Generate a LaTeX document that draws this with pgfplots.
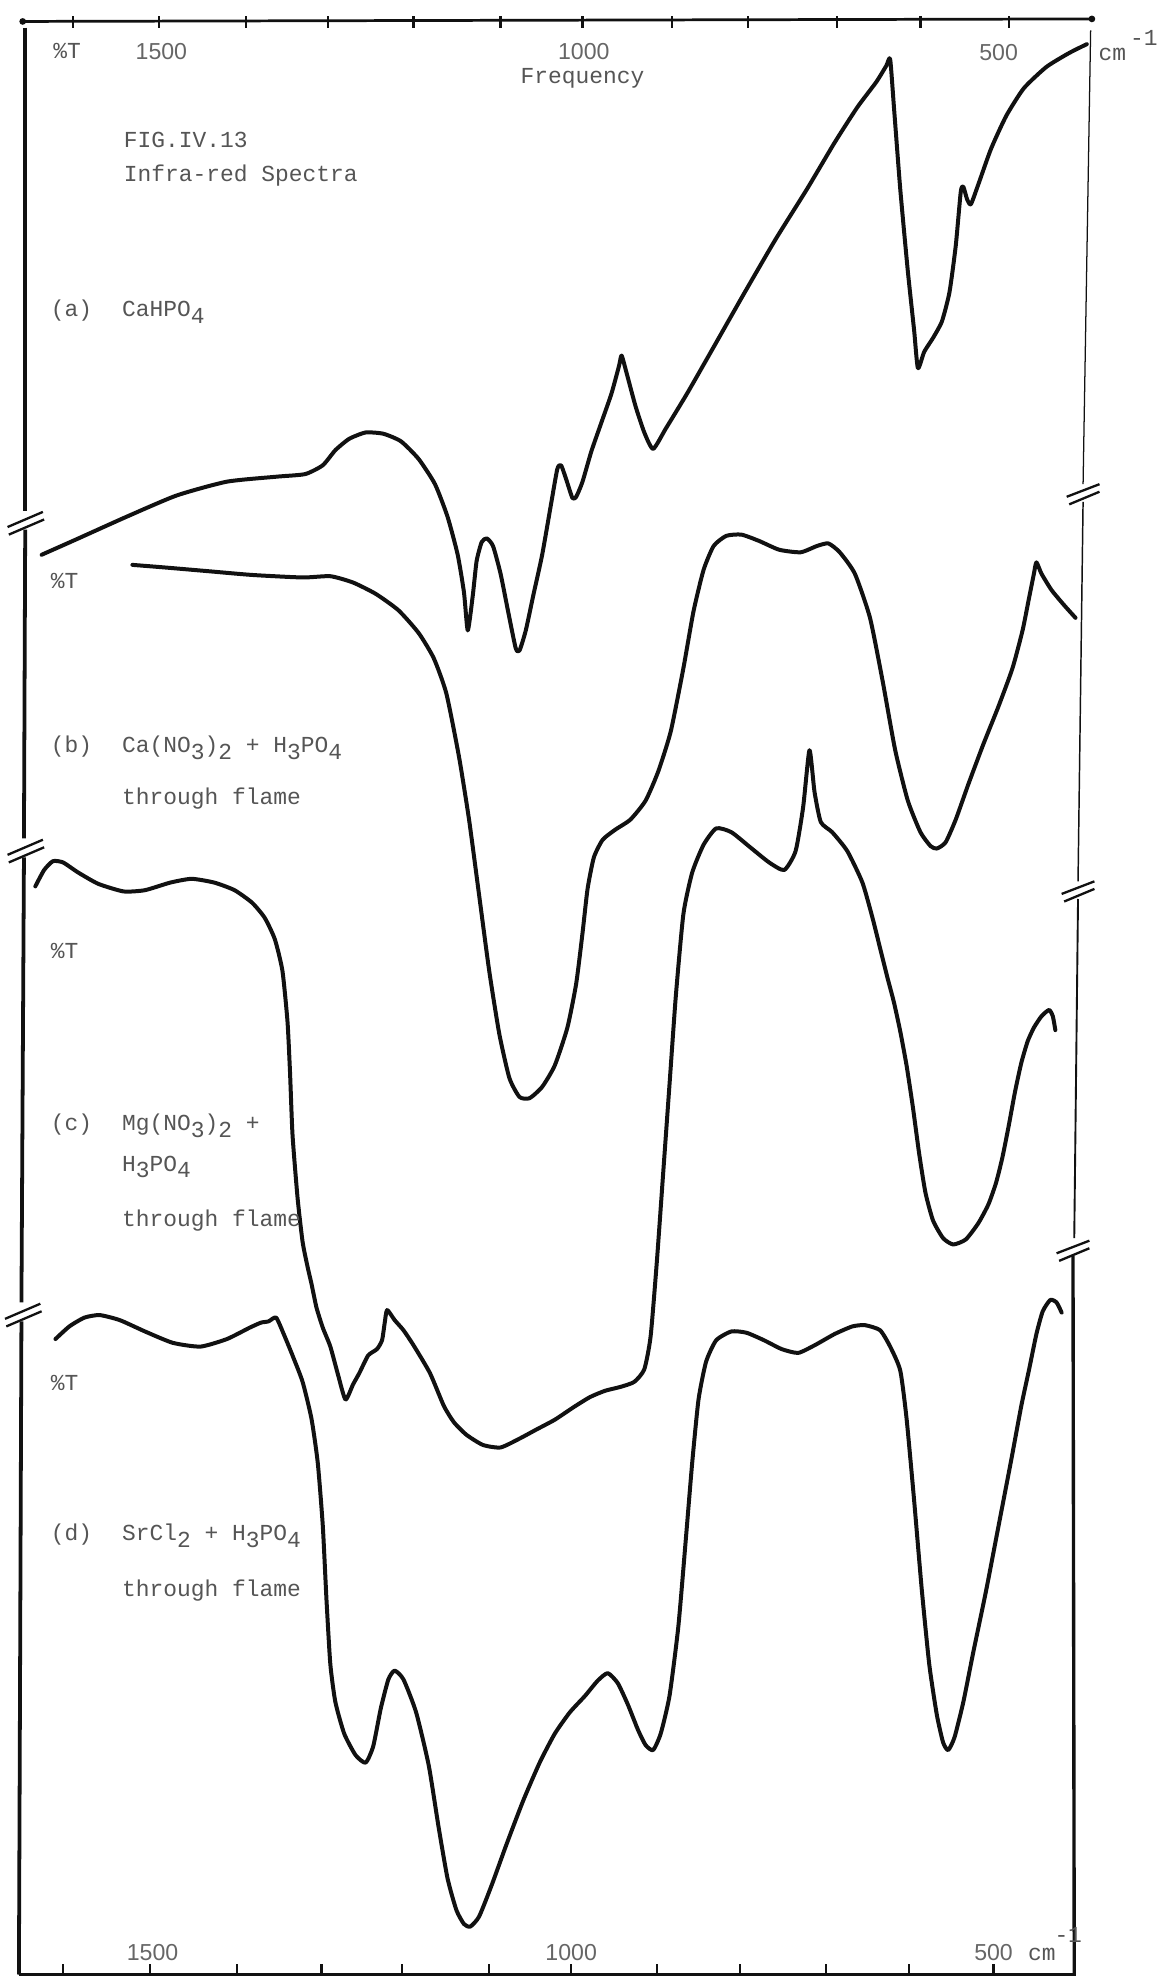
\documentclass[border=0pt]{standalone}
\usepackage{fontspec}
\usepackage{pgfplots}
\pgfplotsset{compat=1.18}
\newfontfamily\typed{Liberation Mono}
\newfontfamily\stencil{Liberation Sans}
\definecolor{ink}{HTML}{111111}
\definecolor{typeink}{HTML}{555555}
\definecolor{letter}{HTML}{666666}
\newcommand{\sub}[1]{\raisebox{-0.55ex}{#1}}
\tikzset{
    tl/.style={typeink, font=\typed\fontsize{10.9}{13}\selectfont, inner sep=0pt, anchor=base west},
    dl/.style={letter, font=\stencil\fontsize{11}{13}\selectfont, inner sep=0pt, anchor=base},
    brk/.style={ink, line width=1.1pt},
}

% spectra, in picture units (x to the right, y downwards)
\pgfplotstableread{
x y
33 440
60 428
100 410
140 393
180 382
220 378
242 376
256 369
266 357
277 348
290 343
304 344
318 350
332 364
345 384
355 410
363 440
368 470
371 500
375 472
378 445
382 430
386 427
391 433
397 455
403 485
409 514
412 516
417 500
423 472
430 440
437 400
442 372
445 369
449 380
454 395
457 394
462 382
469 358
477 335
485 312
491 290
493 282
497 296
504 322
511 343
518 356
528 340
545 312
565 277
590 233
615 190
640 150
662 113
680 85
695 65
703 52
706 47
709 85
714 150
720 215
725 262
728 292
733 279
740 268
747 255
753 232
758 195
762 152
764 148
767 158
770 162
776 146
786 118
798 92
812 70
830 53
848 42
862 35
}\specA

\pgfplotstableread{
x y
105 448
130 450
165 453
200 456
240 458
262 457
280 462
298 471
316 484
332 502
344 522
354 550
364 600
372 650
380 710
388 770
396 820
404 855
412 870
420 871
430 862
440 845
450 815
457 780
462 740
466 705
471 680
478 666
488 658
500 650
512 635
522 612
532 580
542 530
550 485
558 452
566 433
576 425
588 424
602 429
618 436
635 438
648 433
657 431
666 438
678 455
690 490
700 540
710 595
720 635
730 660
738 671
743 673
750 668
758 650
768 622
780 590
792 560
803 530
811 500
816 475
820 455
822 446
826 455
834 468
844 480
853 490
}\specB

\pgfplotstableread{
x y
28 703
35 690
42 683
50 684
62 692
78 701
98 707
115 706
135 700
152 697
170 700
186 706
200 716
210 728
218 745
224 770
228 810
230 850
232 900
236 950
240 985
244 1005
247 1018
251 1037
256 1053
262 1068
268 1090
274 1110
280 1098
285 1089
292 1075
299 1070
303 1063
305 1050
307 1039
313 1047
320 1055
328 1067
341 1089
352 1115
360 1128
370 1138
383 1146
397 1148
412 1141
425 1134
440 1126
455 1116
468 1108
480 1103
492 1100
503 1096
511 1086
516 1060
521 1000
526 930
531 860
536 790
542 725
549 692
558 670
568 657
580 660
595 672
610 684
622 690
631 675
637 640
642 595
646 628
651 652
660 660
672 675
684 700
692 728
698 752
704 776
709 795
714 818
719 845
724 878
729 915
734 946
740 968
748 982
756 987
766 983
776 970
784 955
790 938
795 918
800 893
805 866
810 843
815 826
820 815
826 806
832 801
835 806
837 817
}\specC

\pgfplotstableread{
x y
44 1062
55 1052
67 1045
79 1043
95 1047
115 1056
137 1065
159 1068
180 1062
198 1053
207 1049
213 1048
219 1045
225 1058
232 1075
240 1096
247 1125
252 1160
256 1210
259 1270
262 1320
266 1350
273 1375
282 1392
290 1398
296 1385
302 1355
308 1332
313 1325
320 1332
330 1358
340 1400
348 1450
355 1490
362 1515
368 1526
373 1528
380 1520
390 1495
402 1462
415 1428
428 1398
440 1375
452 1358
464 1345
474 1333
482 1327
490 1335
498 1352
506 1372
512 1384
518 1388
524 1375
531 1345
538 1290
544 1220
549 1160
554 1110
560 1080
568 1063
580 1056
592 1057
606 1063
620 1070
633 1073
646 1067
662 1058
676 1052
686 1051
698 1055
706 1068
714 1087
719 1125
725 1190
731 1260
737 1320
743 1360
748 1382
752 1388
757 1378
764 1350
772 1310
782 1262
792 1210
802 1158
810 1115
816 1087
822 1058
827 1040
833 1031
838 1033
842 1041
}\specD

\begin{document}
\begin{tikzpicture}
\begin{axis}[
    width=550.2pt,
    height=940.8pt,
    scale only axis,
    xmin=0, xmax=917,
    ymin=0, ymax=1568,
    y dir=reverse,
    hide axis,
    clip=false,
    spectrum/.style={ink, line width=1.9pt, line join=round, line cap=round, smooth, tension=0.35},
]
% page extent
\path (axis cs:0,0) rectangle (axis cs:917,1568);

% frame: top and bottom frequency scales
\draw[ink, line width=1.3pt] (axis cs:18,17) -- (axis cs:866,15);
\fill[ink] (axis cs:18,17) circle (1.6pt);
\fill[ink] (axis cs:866,15) circle (1.6pt);
\pgfplotsinvokeforeach{58,126,195,260,328,397,462,533,593,664,730,800}{
  \draw[ink, line width=1.1pt] (axis cs:#1,13) -- (axis cs:#1,22);
}
\draw[ink, line width=1.3pt] (axis cs:15,1566) -- (axis cs:853,1566);
\pgfplotsinvokeforeach{50,119,188,255,319,388,453,521,587,655,721,788}{
  \draw[ink, line width=1.1pt] (axis cs:#1,1558) -- (axis cs:#1,1566);
}

% left %T line, broken between the spectra
\draw[ink, line width=1.8pt] (axis cs:20,22) -- (axis cs:20,405);
\draw[ink, line width=1.8pt] (axis cs:20,420) -- (axis cs:19,665);
\draw[ink, line width=1.8pt] (axis cs:19,680) -- (axis cs:17,1033);
\draw[ink, line width=1.8pt] (axis cs:17,1048) -- (axis cs:15,1566);
\draw[brk] (axis cs:6,418) -- (axis cs:34,406);
\draw[brk] (axis cs:7,424) -- (axis cs:35,412);
\draw[brk] (axis cs:6,678) -- (axis cs:34,666);
\draw[brk] (axis cs:7,684) -- (axis cs:35,672);
\draw[brk] (axis cs:4,1046) -- (axis cs:32,1034);
\draw[brk] (axis cs:5,1052) -- (axis cs:33,1040);

% right line, thin above and heavier below
\draw[ink, line width=0.6pt] (axis cs:865,24) -- (axis cs:859,384);
\draw[ink, line width=0.7pt] (axis cs:859,398) -- (axis cs:855,699);
\draw[ink, line width=0.9pt] (axis cs:855,713) -- (axis cs:852,982);
\draw[ink, line width=1.6pt] (axis cs:851,996) -- (axis cs:852,1566);
\draw[brk] (axis cs:846,394) -- (axis cs:872,384);
\draw[brk] (axis cs:848,400) -- (axis cs:872,390);
\draw[brk] (axis cs:842,709) -- (axis cs:868,699);
\draw[brk] (axis cs:844,715) -- (axis cs:868,705);
\draw[brk] (axis cs:838,994) -- (axis cs:864,984);
\draw[brk] (axis cs:840,1000) -- (axis cs:864,990);

% spectra
\addplot[spectrum] table {\specA};
\addplot[spectrum] table {\specB};
\addplot[spectrum] table {\specC};
\addplot[spectrum] table {\specD};

% scale lettering
\node[tl] at (axis cs:42,46) {\%T};
\node[dl] at (axis cs:128,47) {1500};
\node[dl] at (axis cs:463,47) {1000};
\node[tl, anchor=base] at (axis cs:462,66) {Frequency};
\node[dl] at (axis cs:792,48) {500};
\node[tl] at (axis cs:871,48) {cm};
\node[tl] at (axis cs:896,36) {-1};
\node[dl] at (axis cs:121,1555) {1500};
\node[dl] at (axis cs:453,1555) {1000};
\node[dl] at (axis cs:788,1555) {500};
\node[tl] at (axis cs:815,1555) {cm};
\node[tl] at (axis cs:836,1541) {-1};

% typed captions
\node[tl] at (axis cs:98,117) {FIG.IV.13};
\node[tl] at (axis cs:98,144) {Infra-red Spectra};
\node[tl] at (axis cs:40,251) {(a)};
\node[tl] at (axis cs:96.5,251) {CaHPO\sub{4}};
\node[tl] at (axis cs:40,467) {\%T};
\node[tl] at (axis cs:40,597) {(b)};
\node[tl] at (axis cs:96.5,597) {Ca(NO\sub{3})\sub{2} + H\sub{3}PO\sub{4}};
\node[tl] at (axis cs:96.5,638) {through flame};
\node[tl] at (axis cs:40,760) {\%T};
\node[tl] at (axis cs:40,897) {(c)};
\node[tl] at (axis cs:96.5,897) {Mg(NO\sub{3})\sub{2} +};
\node[tl] at (axis cs:96.5,929) {H\sub{3}PO\sub{4}};
\node[tl] at (axis cs:96.5,973) {through flame};
\node[tl] at (axis cs:40,1103) {\%T};
\node[tl] at (axis cs:40,1222) {(d)};
\node[tl] at (axis cs:96.5,1222) {SrCl\sub{2} + H\sub{3}PO\sub{4}};
\node[tl] at (axis cs:96.5,1266) {through flame};
\end{axis}
\end{tikzpicture}
\end{document}
